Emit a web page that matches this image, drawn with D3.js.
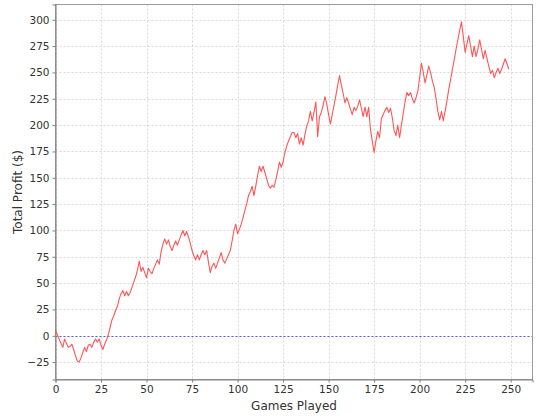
<!DOCTYPE html>
<html><head><meta charset="utf-8">
<script src="https://cdn.jsdelivr.net/npm/d3@7"></script>
<style>body{margin:0;background:#fff}svg{display:block}</style>
</head><body>
<script>
const profits = [5,1,-3,-7,-11,-3,-7,-11,-10,-8,-13,-19,-24,-25,-21,-16,-11,-15,-9,-8,
-11,-6,-3,-6,-3,-9,-13,-8,-4,1,8,15,19,24,28,35,40,43,38,42,
38,41,46,51,56,62,71,61,65,60,55,64,61,59,64,68,72,68,80,87,
92,87,91,85,81,86,90,86,91,96,100,95,99,94,88,81,76,72,77,72,
77,81,77,81,70,60,66,69,64,69,74,79,72,69,73,77,81,90,100,106,
97,101,106,112,119,125,133,137,142,133,142,152,161,156,161,155,149,143,140,143,
141,148,156,165,160,165,174,180,185,189,193,193,188,192,182,188,181,191,199,204,
213,204,212,222,189,208,212,219,227,220,210,201,210,219,228,238,247,238,230,221,
226,221,215,210,217,214,218,224,216,208,217,208,217,196,185,174,185,194,188,206,
210,214,217,212,216,207,195,190,200,188,200,211,222,231,228,231,225,221,226,232,
245,259,250,240,248,256,250,242,236,225,213,205,213,204,213,223,234,243,253,262,
272,281,290,298,284,269,277,285,275,265,275,265,272,281,272,263,271,263,256,249,
252,245,250,254,249,253,258,263,258,253];
const games = profits.map((d,i)=>i);
const xTicks = [0,25,50,75,100,125,150,175,200,225,250];
const yTicks = [-25,0,25,50,75,100,125,150,175,200,225,250,275,300];
const xTitle = "Games Played";
const yTitle = "Total Profit ($)";

const W=540,H=420, L=55.5, R=532.5, T=4.5, B=379.5;
const svg=d3.select("body").append("svg").attr("width",W).attr("height",H);
const x=d3.scaleLinear().domain([0,262]).range([L,R]);
const y=d3.scaleLinear().domain([-41.5,314.5]).range([B,T]);
const font="DejaVu Sans, sans-serif";

// grid
svg.append("g").selectAll("line.v").data(xTicks).join("line")
 .attr("x1",d=>Math.round(x(d))+0.5).attr("x2",d=>Math.round(x(d))+0.5).attr("y1",T).attr("y2",B)
 .attr("stroke","#d8d8d8").attr("stroke-dasharray","2,2");
svg.append("g").selectAll("line.h").data(yTicks).join("line")
 .attr("y1",d=>Math.round(y(d))+0.5).attr("y2",d=>Math.round(y(d))+0.5).attr("x1",L).attr("x2",R)
 .attr("stroke","#d8d8d8").attr("stroke-dasharray","2,2");
// zero line
svg.append("line").attr("x1",L).attr("x2",R).attr("y1",Math.round(y(0))+0.5).attr("y2",Math.round(y(0))+0.5)
 .attr("stroke","#5c5cd6").attr("stroke-dasharray","2,2");
// outline
svg.append("rect").attr("x",L).attr("y",T).attr("width",R-L).attr("height",B-T)
 .attr("fill","none").attr("stroke","#9a9a9a");

// axes
const xa=svg.append("g").attr("transform",`translate(0,${B})`)
 .call(d3.axisBottom(x).tickValues(xTicks).tickSize(3).tickPadding(3).tickFormat(d3.format("d")));
const ya=svg.append("g").attr("transform",`translate(${L},0)`)
 .call(d3.axisLeft(y).tickValues(yTicks).tickSize(3).tickPadding(3).tickFormat(d3.format("d")));
[xa,ya].forEach(a=>{
 a.select(".domain").attr("stroke","#808080");
 a.selectAll(".tick line").attr("stroke","#808080");
 a.selectAll("text").attr("fill","#333").style("font-family",font).style("font-size","10.5px");
});

// line
svg.append("path").datum(profits)
 .attr("fill","none").attr("stroke","#ff5555").attr("stroke-width",1.1).attr("stroke-linejoin","round")
 .attr("d",d3.line().x((d,i)=>x(games[i])).y(d=>y(d)));

// titles
svg.append("text").attr("x",(L+R)/2).attr("y",410).attr("text-anchor","middle")
 .style("font-family",font).style("font-size","12px").attr("fill","#333").text(xTitle);
svg.append("text").attr("transform",`translate(22,${(T+B)/2}) rotate(-90)`).attr("text-anchor","middle")
 .style("font-family",font).style("font-size","12px").attr("fill","#333").text(yTitle);
</script>
</body></html>
